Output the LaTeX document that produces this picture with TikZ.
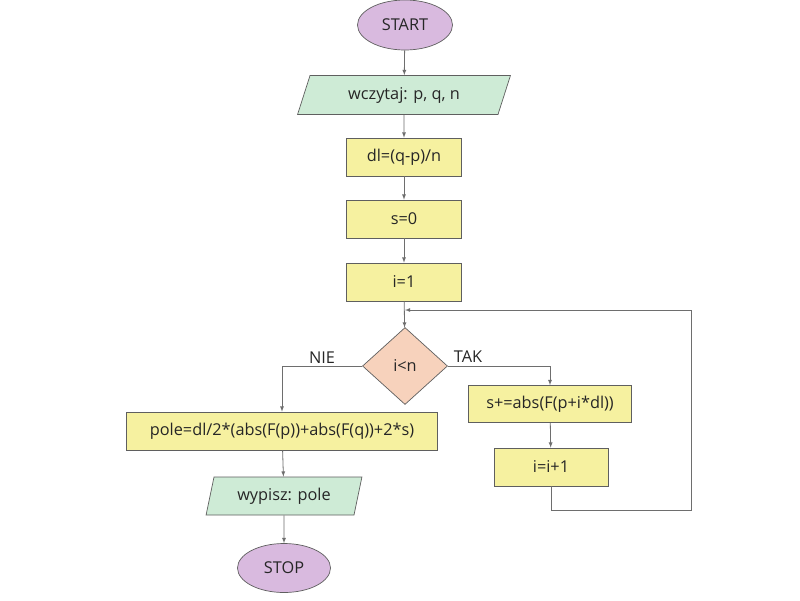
\documentclass[tikz,border=0pt]{standalone}
\usepackage{fontspec}
\setmainfont{Open Sans}
\usetikzlibrary{shapes.geometric}
\definecolor{termfill}{RGB}{217,186,223}
\definecolor{iofill}{RGB}{206,235,214}
\definecolor{opfill}{RGB}{246,241,160}
\definecolor{condfill}{RGB}{247,210,188}
\definecolor{edgegray}{RGB}{95,95,95}
\definecolor{linegray}{RGB}{110,110,110}
\begin{document}
\begin{tikzpicture}[x=1pt, y=-1pt,
        every node/.style={font=\fontsize{16.3}{19}\selectfont, text=black!85},
        term/.style={ellipse, draw=edgegray, fill=termfill, line width=0.7pt, minimum width=95pt, minimum height=50pt, inner sep=0pt},
        io/.style={trapezium, trapezium stretches=true, draw=edgegray, fill=iofill, line width=0.7pt, minimum height=39pt, inner sep=0pt},
        op/.style={rectangle, draw=edgegray, fill=opfill, line width=0.7pt, minimum height=38pt, inner sep=0pt},
        cond/.style={diamond, draw=edgegray, fill=condfill, line width=0.7pt, minimum width=85pt, minimum height=77pt, inner sep=0pt},
        conn/.style={draw=linegray, line width=0.8pt, -latex}]
        \fill[white] (0, 0) rectangle (800, 600);
        \useasboundingbox (0, 0) rectangle (800, 600);
        \node[term] (start) at (405, 25) {START};
        \node[io, minimum width=213pt, trapezium left angle=65, trapezium right angle=115] (read) at (404, 95) {wczytaj: p, q, n};
        \node[op, minimum width=115pt] (dl) at (404, 157) {dl=(q-p)/n};
        \node[op, minimum width=115pt] (s0) at (404, 219) {s=0};
        \node[op, minimum width=115pt] (i1) at (404, 282) {i=1};
        \node[cond] (test) at (405, 366) {i<n};
        \node[op, minimum width=311pt] (pole) at (282, 431) {pole=dl/2*(abs(F(p))+abs(F(q))+2*s)};
        \node[io, minimum width=156pt, minimum height=38pt, trapezium left angle=72, trapezium right angle=108] (write) at (284, 496) {wypisz: pole};
        \node[term, minimum width=93pt, minimum height=49pt] (stop) at (284, 568) {STOP};
        \node[op, minimum width=163pt, minimum height=37pt] (sum) at (550, 404) {s+=abs(F(p+i*dl))};
        \node[op, minimum width=114pt] (inc) at (551, 467) {i=i+1};
        \node (nie) at (322, 358) {NIE};
        \node (tak) at (468, 357) {TAK};
        \coordinate (join) at (405, 310);
        \coordinate (back) at (691, 510);
        \draw[conn] (start) -- (read);
        \draw[conn] (read) -- (dl);
        \draw[conn] (dl) -- (s0);
        \draw[conn] (s0) -- (i1);
        \draw[conn] (i1) -- (test);
        \draw[conn] (test.west) -| (pole.north);
        \draw[conn] (test.east) -| (sum.north);
        \draw[conn] (sum) -- (inc);
        \draw[conn] (inc.south) |- (back) |- (join);
        \draw[conn] (pole) -- (write);
        \draw[conn] (write) -- (stop);
    \end{tikzpicture}
\end{document}
